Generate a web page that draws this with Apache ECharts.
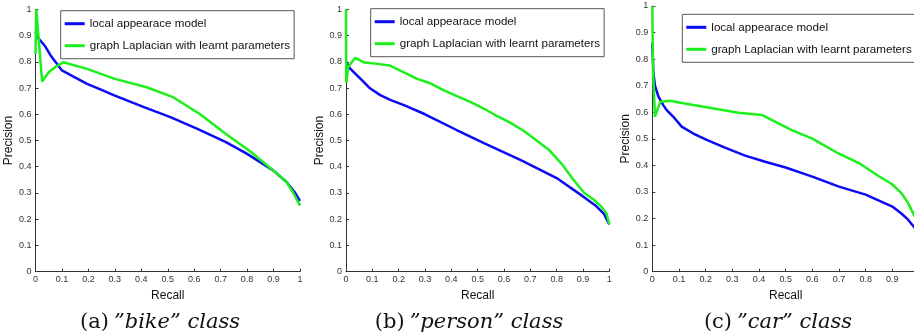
<!DOCTYPE html>
<html>
<head>
<meta charset="utf-8">
<script src="https://cdn.jsdelivr.net/npm/echarts@6/dist/echarts.min.js"></script>
<style>
  html, body { margin: 0; padding: 0; background: #fff; }
  #chart { width: 914px; height: 335px; }
</style>
</head>
<body>
<div id="chart"></div>
<script>
// series names (legend text kept as in the figure)
const seriesNames = ['local appearace model', 'graph Laplacian with learnt parameters'];
const captions = [['(a)', '”bike” class'], ['(b)', '”person” class'], ['(c)', '”car” class']];

// [recall, precision]
const bikeLocal = [[0,0.915],[0.01,0.89],[0.036,0.86],[0.06,0.82],[0.1,0.767],[0.14,0.745],[0.195,0.716],[0.245,0.695],[0.3,0.671],[0.41,0.627],[0.51,0.589],[0.61,0.545],[0.72,0.494],[0.8,0.449],[0.9,0.385],[0.95,0.341],[0.98,0.303],[1.0,0.27]];
const bikeGraph = [[0,0.83],[0.003,1.0],[0.025,0.725],[0.05,0.76],[0.075,0.78],[0.105,0.798],[0.195,0.773],[0.3,0.735],[0.42,0.703],[0.52,0.665],[0.62,0.602],[0.72,0.525],[0.81,0.46],[0.9,0.385],[0.95,0.341],[0.975,0.3],[1.0,0.252]];

const personLocal = [[0,0.80],[0.015,0.775],[0.04,0.75],[0.066,0.724],[0.091,0.699],[0.13,0.673],[0.17,0.654],[0.22,0.635],[0.3,0.6],[0.42,0.54],[0.53,0.487],[0.666,0.424],[0.8,0.357],[0.9,0.287],[0.95,0.25],[0.98,0.22],[1.0,0.18]];
const personGraph = [[0,1.0],[0.001,0.72],[0.008,0.78],[0.035,0.815],[0.07,0.797],[0.12,0.792],[0.165,0.786],[0.22,0.76],[0.27,0.735],[0.32,0.718],[0.374,0.69],[0.43,0.665],[0.476,0.645],[0.53,0.618],[0.565,0.598],[0.62,0.57],[0.67,0.54],[0.704,0.515],[0.77,0.465],[0.82,0.41],[0.86,0.355],[0.905,0.3],[0.94,0.275],[0.97,0.248],[0.99,0.22],[1.0,0.18]];

const carLocal = [[0,0.86],[0.004,0.75],[0.01,0.70],[0.023,0.659],[0.041,0.627],[0.054,0.608],[0.079,0.583],[0.11,0.546],[0.154,0.52],[0.204,0.496],[0.27,0.468],[0.348,0.437],[0.42,0.415],[0.5,0.392],[0.6,0.358],[0.7,0.32],[0.8,0.29],[0.9,0.245],[0.935,0.218],[0.955,0.2],[0.98,0.17],[1.0,0.15]];
const carGraph = [[0,1.0],[0.003,0.75],[0.01,0.583],[0.03,0.64],[0.066,0.643],[0.116,0.634],[0.198,0.62],[0.323,0.598],[0.41,0.59],[0.523,0.533],[0.598,0.502],[0.698,0.445],[0.773,0.41],[0.848,0.36],[0.898,0.33],[0.935,0.295],[0.96,0.257],[0.98,0.215],[1.0,0.18]];

const panels = [
  {local: bikeLocal, graph: bikeGraph, caption: 155, grid: {left: 35.5, top: 9.3, width: 264.5, height: 262.4}, legend: {left: 60.7, top: 10.7}},
  {local: personLocal, graph: personGraph, caption: 464, grid: {left: 346, top: 9.3, width: 263.3, height: 262.4}, legend: {left: 370.7, top: 8.7}},
  {local: carLocal, graph: carGraph, caption: 773, grid: {left: 652.3, top: 6, width: 266.7, height: 265.7}, legend: {left: 682.3, top: 14.3}}
];

const chart = echarts.init(document.getElementById('chart'), null, {renderer: 'canvas'});
const sans = '"Liberation Sans", Arial, sans-serif';
const serif = '"DejaVu Serif", serif';
const axisColor = '#333';

const option = {
  backgroundColor: '#fff',
  animation: false,
  title: panels.map((p, i) => ({
    text: '{n|' + captions[i][0] + '} {it|' + captions[i][1] + '}',
    left: p.caption,
    textAlign: 'center',
    top: 307,
    textStyle: {
      fontWeight: 'normal',
      rich: {
        n: {fontFamily: serif, fontSize: 21, fontWeight: 'normal', color: '#111'},
        it: {fontFamily: serif, fontSize: 21, fontWeight: 'normal', fontStyle: 'italic', color: '#111'}
      }
    }
  })),
  legend: panels.map(p => ({
    data: seriesNames,
    orient: 'vertical',
    left: p.legend.left,
    top: p.legend.top,
    icon: 'rect',
    itemWidth: 20,
    itemHeight: 3,
    itemGap: 10,
    padding: [7, 4, 7, 4],
    borderColor: '#555',
    borderWidth: 1,
    backgroundColor: '#fff',
    borderRadius: 0,
    selectedMode: false,
    textStyle: {fontFamily: sans, fontSize: 11.6, color: '#111'}
  })),
  grid: panels.map(p => Object.assign({outerBoundsMode: 'none', containLabel: false}, p.grid)),
  xAxis: panels.map((p, i) => ({
    type: 'value', gridIndex: i, min: 0, max: 1, interval: 0.1,
    name: 'Recall', nameLocation: 'middle', nameGap: 18,
    nameTextStyle: {fontFamily: sans, fontSize: 12, color: '#111'},
    axisLine: {lineStyle: {color: axisColor, width: 1}},
    axisTick: {inside: true, length: 3, lineStyle: {color: axisColor}},
    axisLabel: {fontFamily: sans, fontSize: 9, color: '#333', margin: 3},
    splitLine: {show: false}
  })),
  yAxis: panels.map((p, i) => ({
    type: 'value', gridIndex: i, min: 0, max: 1, interval: 0.1,
    name: 'Precision', nameLocation: 'middle', nameGap: 20,
    nameTextStyle: {fontFamily: sans, fontSize: 12, color: '#111'},
    axisLine: {show: true, lineStyle: {color: axisColor, width: 1}},
    axisTick: {show: true, inside: true, length: 3, lineStyle: {color: axisColor}},
    axisLabel: {fontFamily: sans, fontSize: 9, color: '#333', margin: 4},
    splitLine: {show: false}
  })),
  series: panels.flatMap((p, i) => [
    {name: seriesNames[0], type: 'line', xAxisIndex: i, yAxisIndex: i, data: p.local,
     symbol: 'none', color: '#0a0af5', lineStyle: {width: 2.5, color: '#0a0af5'}},
    {name: seriesNames[1], type: 'line', xAxisIndex: i, yAxisIndex: i, data: p.graph,
     symbol: 'none', color: '#1cf01c', lineStyle: {width: 2.5, color: '#1cf01c'}}
  ])
};

chart.setOption(option);
</script>
</body>
</html>
